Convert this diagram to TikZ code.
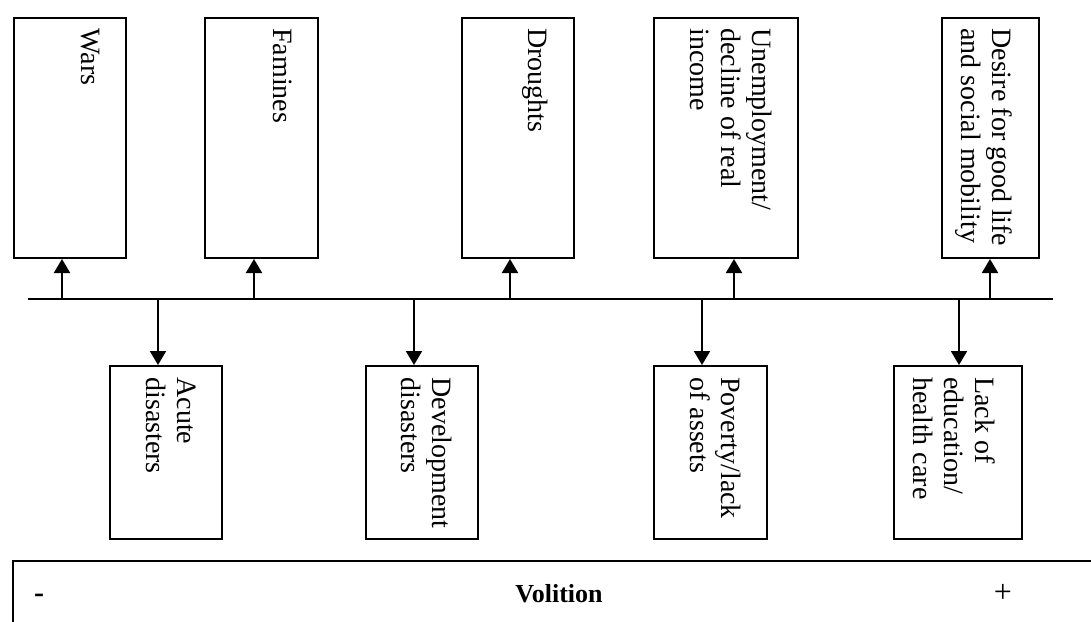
\documentclass[tikz,border=0pt]{standalone}
\usepackage{fontspec}
\setmainfont{Liberation Serif}
\usetikzlibrary{arrows.meta}
\begin{document}
\begin{tikzpicture}[x=0.5pt, y=-0.5pt,
  box/.style={draw, line width=1pt, inner sep=0pt, anchor=north west},
  topbox/.style={box, minimum width=#1, minimum height=120pt},
  lowbox/.style={box, minimum width=#1, minimum height=86.5pt},
  txt/.style={rotate=-90, anchor=north west, inner sep=0pt, align=left, font=\fontsize{14}{15.5}\selectfont},
  tip/.style={line width=1pt, -{Triangle[length=7pt,width=8pt]}}]
\useasboundingbox (0,0) rectangle (1091,621);
\node[topbox=56pt] (wars) at (13,17) {};
\node[topbox=56.5pt] (famines) at (204,17) {};
\node[topbox=56pt] (droughts) at (461,17) {};
\node[topbox=72pt] (unemp) at (653,17) {};
\node[topbox=48.5pt] (desire) at (941,17) {};
\node[lowbox=56pt] (acute) at (109,365) {};
\node[lowbox=56pt] (devel) at (365,365) {};
\node[lowbox=56.5pt] (poverty) at (653,365) {};
\node[lowbox=64pt] (lack) at (893,365) {};
\node[txt] (wars-t) at ([xshift=-13.5pt,yshift=-5.5pt]wars.north east) {Wars};
\node[txt] (famines-t) at ([xshift=-13.5pt,yshift=-5.5pt]famines.north east) {Famines};
\node[txt] (droughts-t) at ([xshift=-13.5pt,yshift=-5.5pt]droughts.north east) {Droughts};
\node[txt] (unemp-t) at ([xshift=-13.5pt,yshift=-5.5pt]unemp.north east) {Unemployment/\\decline of real\\income};
\node[txt] (desire-t) at ([xshift=-13.5pt,yshift=-5.5pt]desire.north east) {\makebox[109pt][s]{Desire for good life}\\and social mobility};
\node[txt] (acute-t) at ([xshift=-13.5pt,yshift=-6pt]acute.north east) {Acute\\disasters};
\node[txt] (devel-t) at ([xshift=-13.5pt,yshift=-6pt]devel.north east) {Development\\disasters};
\node[txt] (poverty-t) at ([xshift=-13.5pt,yshift=-6pt]poverty.north east) {Poverty/lack\\of assets};
\node[txt] (lack-t) at ([xshift=-13.5pt,yshift=-6pt]lack.north east) {Lack of\\education/\\health care};
\coordinate (axis-w) at (28,299);
\coordinate (axis-e) at (1053,299);
\draw[line width=1pt] (axis-w) -- (axis-e);
\foreach \b/\d in {wars/-4pt, famines/-3.75pt, droughts/-4pt, unemp/4pt, desire/-0.25pt}
  \draw[tip] ([xshift=\d]\b.south |- axis-w) -- ([xshift=\d]\b.south);
\foreach \b/\d in {acute/-4pt, devel/-4pt, poverty/-4.25pt, lack/0.5pt}
  \draw[tip] ([xshift=\d]\b.north |- axis-w) -- ([xshift=\d]\b.north);
\draw[line width=1pt] (13,640) -- (13,561) -- (1100,561);
\node[inner sep=0pt, anchor=base, font=\fontsize{15}{17}\selectfont\bfseries] (minus) at (39,602) {-};
\node[inner sep=0pt, anchor=base, font=\fontsize{13}{15}\selectfont\bfseries] (volition) at (559,602) {Volition};
\node[inner sep=0pt, anchor=base, font=\fontsize{16}{18}\selectfont] (plus) at (1003,602) {+};
\end{tikzpicture}
\end{document}
